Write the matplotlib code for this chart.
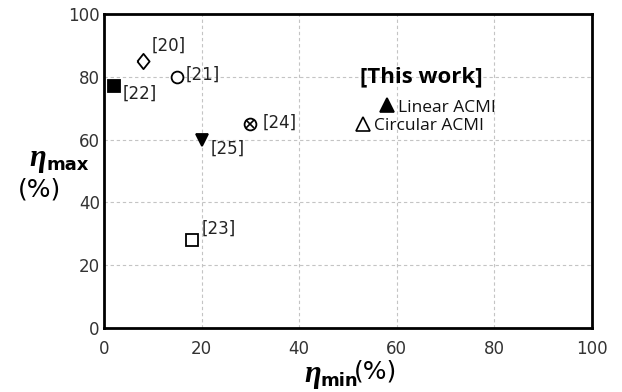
import matplotlib
matplotlib.use('Agg')
import matplotlib.pyplot as plt

# Reference designs (eta_min, eta_max)
refs = ['[20]', '[21]', '[22]', '[23]', '[24]', '[25]']
eta_min = [8, 15, 2, 18, 30, 20]
eta_max = [85, 80, 77, 28, 65, 60]
markers = ['D', 'o', 's', 's', 'o', 'v']
filled = [False, False, True, False, False, True]

# This work
work_labels = ['Linear ACMI', 'Circular ACMI']
work_min = [58, 53]
work_max = [71, 65]
work_filled = [True, False]

W, H = 622, 392
fig = plt.figure(figsize=(W / 100, H / 100), dpi=100)
ax = fig.add_axes([104 / W, 1 - 328 / H, 488 / W, 314 / H])


def px(x, y):
    return x / W, 1 - y / H


diamond = [(-0.8, 0), (0, 1), (0.8, 0), (0, -1), (-0.8, 0)]

for x, y, m, f in zip(eta_min, eta_max, markers, filled):
    ms = 8.5
    if m == 's':
        ms = 8
    if m == 'D':
        m, ms = diamond, 11
    ax.plot(x, y, marker=m, ms=ms, mfc='black' if f else 'white',
            mec='black', mew=1.3, ls='none', zorder=3)

# [24] is a circle with a cross
ax.plot(eta_min[4], eta_max[4], marker='x', ms=5.5, color='black', mew=1.2, zorder=4)

# reference labels
offsets = {'[20]': (1.8, 5), '[21]': (1.8, 0.5), '[22]': (1.8, -2.5),
           '[23]': (2, 3.5), '[24]': (2.5, 0.5), '[25]': (1.8, -3)}
for x, y, lab in zip(eta_min, eta_max, refs):
    dx, dy = offsets[lab]
    ax.text(x + dx, y + dy, lab, fontsize=12, color='#222222', va='center', ha='left')

for x, y, f, lab in zip(work_min, work_max, work_filled, work_labels):
    ax.plot(x, y, marker='^', ms=10, mfc='black' if f else 'white',
            mec='black', mew=1.2, ls='none', zorder=3)
    ax.text(x + 2.3, y - 0.8, lab, fontsize=12.5, family='Open Sans',
            color='#111111', va='center', ha='left')

ax.text(65, 80, '[This work]', fontsize=16, fontweight='bold',
        family='Open Sans', ha='center', va='center')

ax.set_xlim(0, 100)
ax.set_ylim(0, 100)
ax.set_xticks(range(0, 101, 20))
ax.set_yticks(range(0, 101, 20))
ax.tick_params(labelsize=12, labelcolor='#333333', length=0)
ax.tick_params(axis='x', pad=9)
ax.tick_params(axis='y', pad=3)
ax.grid(True, ls=(0, (3, 2.5)), color='#c4c4c4', lw=0.8)
for s in ax.spines.values():
    s.set_linewidth(2)

# axis labels: bold italic eta with bold subscript-like text
eta_kw = dict(fontsize=22, family='Liberation Serif', style='italic',
              fontweight='bold', va='baseline', ha='left')
sub_kw = dict(fontsize=13, fontweight='bold', va='baseline', ha='left')

fig.text(*px(29, 166), 'η', **eta_kw)
fig.text(*px(46, 170), 'max', **sub_kw)
fig.text(*px(39, 189), '(%)', fontsize=18, ha='center', va='center')

fig.text(*px(304, 382), 'η', **eta_kw)
fig.text(*px(321, 386), 'min', **sub_kw)
fig.text(*px(376, 372), '(%)', fontsize=18, ha='center', va='center')

fig.savefig('out.png', dpi=100, facecolor='white')
